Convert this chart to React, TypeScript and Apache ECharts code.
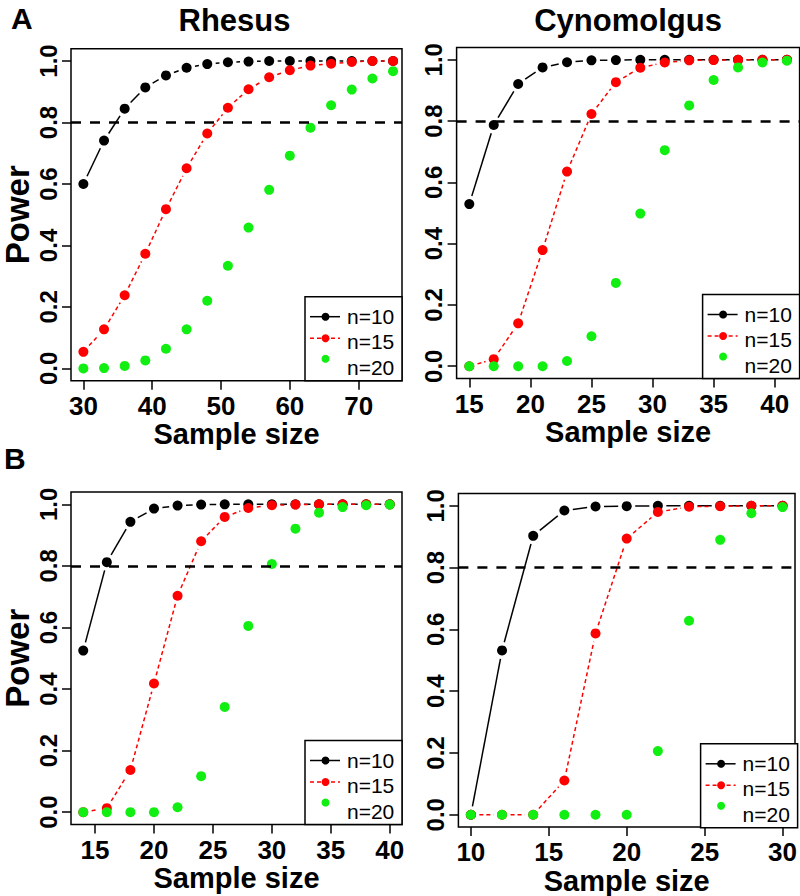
import React, { useEffect, useRef } from "react";
import * as echarts from "echarts";

// ---------- data ----------
const rhesusA_size = [30, 33, 36, 39, 42, 45, 48, 51, 54, 57, 60, 63, 66, 69, 72, 75];
const rhesusA_n10 = [0.6, 0.741, 0.845, 0.914, 0.953, 0.978, 0.99, 0.996, 0.998, 1.0, 1.0, 1.0, 1.0, 1.0, 1.0, 1.0];
const rhesusA_n15 = [0.054, 0.127, 0.238, 0.373, 0.518, 0.651, 0.764, 0.848, 0.908, 0.947, 0.97, 0.985, 0.991, 0.997, 1.0, 1.0];
const rhesusA_n20 = [0.0, 0.001, 0.008, 0.026, 0.064, 0.127, 0.22, 0.334, 0.458, 0.581, 0.692, 0.783, 0.856, 0.907, 0.943, 0.967];

const cynoA_size = [15, 17, 19, 21, 23, 25, 27, 29, 31, 33, 35, 37, 39, 41];
const cynoA_n10 = [0.529, 0.787, 0.921, 0.975, 0.992, 0.998, 0.999, 1.0, 1.0, 1.0, 1.0, 1.0, 1.0, 1.0];
const cynoA_n15 = [0.0, 0.023, 0.14, 0.379, 0.635, 0.823, 0.927, 0.974, 0.991, 0.998, 0.999, 1.0, 1.0, 1.0];
const cynoA_n20 = [0.0, 0.0, 0.0, 0.0, 0.017, 0.098, 0.272, 0.498, 0.705, 0.851, 0.934, 0.975, 0.991, 0.997];

const rhesusB_size = [14, 16, 18, 20, 22, 24, 26, 28, 30, 32, 34, 36, 38, 40];
const rhesusB_n10 = [0.525, 0.812, 0.943, 0.986, 0.996, 0.999, 1.0, 1.0, 1.0, 1.0, 1.0, 1.0, 1.0, 1.0];
const rhesusB_n15 = [0.0, 0.013, 0.137, 0.418, 0.703, 0.88, 0.959, 0.988, 0.997, 0.999, 1.0, 1.0, 1.0, 1.0];
const rhesusB_n20 = [0.0, 0.0, 0.0, 0.0, 0.016, 0.117, 0.342, 0.605, 0.806, 0.921, 0.973, 0.991, 0.997, 0.999];

const cynoB_size = [10, 12, 14, 16, 18, 20, 22, 24, 26, 28, 30];
const cynoB_n10 = [0.0, 0.532, 0.903, 0.985, 0.998, 0.999, 1.0, 1.0, 1.0, 1.0, 1.0];
const cynoB_n15 = [0.0, 0.0, 0.0, 0.111, 0.587, 0.894, 0.98, 0.997, 0.999, 1.0, 1.0];
const cynoB_n20 = [0.0, 0.0, 0.0, 0.0, 0.0, 0.0, 0.206, 0.628, 0.89, 0.976, 0.996];

const rhesusA_xticks = [30, 40, 50, 60, 70];
const cynoA_xticks = [15, 20, 25, 30, 35, 40];
const rhesusB_xticks = [15, 20, 25, 30, 35, 40];
const cynoB_xticks = [10, 15, 20, 25, 30];
const powerTicks = [0, 0.2, 0.4, 0.6, 0.8, 1.0];
const threshold = 0.8;

const seriesNames = ["n=10", "n=15", "n=20"];
const panelTitles = ["Rhesus", "Cynomolgus"];
const panelLetters = ["A", "B"];

// ---------- styling / layout ----------
const FONT = "'Liberation Sans', Arial, Helvetica, sans-serif";
const BLACK = "#000000";
const RED = "#ff0000";
const GREEN = "#11ee11";
const DOT = 10;
const GAP = 8.5; // R type="b" gap around points, in px

type Panel = {
  size: number[];
  n10: number[];
  n15: number[];
  n20: number[];
  xticks: number[];
  grid: { left: number; top: number; width: number; height: number };
  xmin: number;
  xmax: number;
  showPower: boolean;
};

const panels: Panel[] = [
  {
    size: rhesusA_size, n10: rhesusA_n10, n15: rhesusA_n15, n20: rhesusA_n20,
    xticks: rhesusA_xticks,
    grid: { left: 67, top: 48.7, width: 335, height: 332 },
    xmin: 28.2, xmax: 76.3, showPower: true,
  },
  {
    size: cynoA_size, n10: cynoA_n10, n15: cynoA_n15, n20: cynoA_n20,
    xticks: cynoA_xticks,
    grid: { left: 456.6, top: 47.5, width: 343, height: 331 },
    xmin: 13.96, xmax: 42.04, showPower: false,
  },
  {
    size: rhesusB_size, n10: rhesusB_n10, n15: rhesusB_n15, n20: rhesusB_n20,
    xticks: rhesusB_xticks,
    grid: { left: 64.5, top: 492, width: 337.5, height: 332.5 },
    xmin: 12.96, xmax: 41.04, showPower: true,
  },
  {
    size: cynoB_size, n10: cynoB_n10, n15: cynoB_n15, n20: cynoB_n20,
    xticks: cynoB_xticks,
    grid: { left: 458.4, top: 493.5, width: 339.2, height: 334.3 },
    xmin: 9.2, xmax: 30.8, showPower: false,
  },
];

function legendGraphic(right: number, bottom: number) {
  const w = 97;
  const h = 84;
  const left = right - w;
  const top = bottom - h;
  const r = 4;
  const txt = (t: string, y: number) => ({
    type: "text",
    z: 101,
    x: left + 42,
    y,
    style: { text: t, fill: BLACK, font: `21px ${FONT}`, verticalAlign: "middle", textVerticalAlign: "middle" },
  });
  return [
    {
      type: "rect", z: 100,
      shape: { x: left, y: top, width: w, height: h },
      style: { fill: "#ffffff", stroke: BLACK, lineWidth: 1.5 },
    },
    {
      type: "line", z: 101,
      shape: { x1: left + 5, y1: top + 20, x2: left + 35, y2: top + 20 },
      style: { stroke: BLACK, lineWidth: 1.5 },
    },
    { type: "circle", z: 102, shape: { cx: left + 20.5, cy: top + 20, r }, style: { fill: BLACK } },
    {
      type: "line", z: 101,
      shape: { x1: left + 5, y1: top + 41.5, x2: left + 35, y2: top + 41.5 },
      style: { stroke: RED, lineWidth: 1.5, lineDash: [4, 3] },
    },
    { type: "circle", z: 102, shape: { cx: left + 20.5, cy: top + 41.5, r }, style: { fill: RED } },
    { type: "circle", z: 102, shape: { cx: left + 20.5, cy: top + 62, r }, style: { fill: GREEN } },
    txt(seriesNames[0], top + 20),
    txt(seriesNames[1], top + 45),
    txt(seriesNames[2], top + 71),
  ];
}

// gapped connecting segments (like R's type = "b"), positioned through the axes via api.coord
function gappedLineSeries(i: number, xs: number[], ys: number[], color: string, dash: number[] | null) {
  const segs = xs.slice(0, -1).map((x, k) => [x, ys[k], xs[k + 1], ys[k + 1]]);
  return {
    type: "custom",
    xAxisIndex: i,
    yAxisIndex: i,
    silent: true,
    clip: true,
    encode: { x: [0, 2], y: [1, 3] },
    data: segs,
    renderItem: (params: any, api: any) => {
      const p0 = api.coord([api.value(0), api.value(1)]);
      const p1 = api.coord([api.value(2), api.value(3)]);
      const dx = p1[0] - p0[0];
      const dy = p1[1] - p0[1];
      const d = Math.sqrt(dx * dx + dy * dy);
      if (d <= 2 * GAP + 1) return null;
      const ux = dx / d;
      const uy = dy / d;
      return {
        type: "line",
        shape: {
          x1: p0[0] + ux * GAP, y1: p0[1] + uy * GAP,
          x2: p1[0] - ux * GAP, y2: p1[1] - uy * GAP,
        },
        style: { stroke: color, lineWidth: 1.5, lineDash: dash || undefined, fill: null },
      };
    },
  };
}

function buildOption() {
  const grid: any[] = [];
  const xAxis: any[] = [];
  const yAxis: any[] = [];
  const series: any[] = [];
  let graphic: any[] = [];

  panels.forEach((p, i) => {
    grid.push({
      left: p.grid.left, top: p.grid.top, width: p.grid.width, height: p.grid.height,
      show: true, borderColor: BLACK, borderWidth: 1.5, backgroundColor: "transparent",
    });
    xAxis.push({
      type: "value", gridIndex: i, min: p.xmin, max: p.xmax,
      axisLine: { show: false, onZero: false },
      axisTick: { show: true, customValues: p.xticks, length: 9, lineStyle: { color: BLACK, width: 1.5 } },
      axisLabel: {
        customValues: p.xticks, margin: 12, color: BLACK, fontSize: 26, fontWeight: "bold", fontFamily: FONT,
      },
      splitLine: { show: false },
      name: "Sample size", nameLocation: "middle", nameGap: 38,
      nameTextStyle: { fontSize: 29, fontWeight: "bold", color: BLACK, fontFamily: FONT },
    });
    yAxis.push({
      type: "value", gridIndex: i, min: -0.04, max: 1.04,
      axisLine: { show: false, onZero: false },
      axisTick: { show: true, customValues: powerTicks, length: 9, lineStyle: { color: BLACK, width: 1.5 } },
      axisLabel: {
        customValues: powerTicks, rotate: 90, margin: 11, color: BLACK, fontSize: 24, fontWeight: "bold",
        fontFamily: FONT, formatter: (v: number) => v.toFixed(1),
      },
      splitLine: { show: false },
      name: p.showPower ? "Power" : "", nameLocation: "middle", nameGap: 37,
      nameTextStyle: { fontSize: 33, fontWeight: "bold", color: BLACK, fontFamily: FONT },
    });

    const pts = (ys: number[]) => p.size.map((x, k) => [x, ys[k]]);

    series.push(gappedLineSeries(i, p.size, p.n10, BLACK, null));
    series.push({
      type: "scatter", name: seriesNames[0], xAxisIndex: i, yAxisIndex: i,
      data: pts(p.n10), symbol: "circle", symbolSize: DOT,
      itemStyle: { color: BLACK, opacity: 1 },
      markLine: {
        silent: true, symbol: "none", label: { show: false },
        lineStyle: { color: BLACK, width: 2.5, type: [10, 9] },
        data: [{ yAxis: threshold }],
      },
    });
    series.push(gappedLineSeries(i, p.size, p.n15, RED, [4, 3]));
    series.push({
      type: "scatter", name: seriesNames[1], xAxisIndex: i, yAxisIndex: i,
      data: pts(p.n15), symbol: "circle", symbolSize: DOT,
      itemStyle: { color: RED, opacity: 1 },
    });
    series.push({
      type: "scatter", name: seriesNames[2], xAxisIndex: i, yAxisIndex: i,
      data: pts(p.n20), symbol: "circle", symbolSize: DOT,
      itemStyle: { color: GREEN, opacity: 1 },
    });

    graphic = graphic.concat(legendGraphic(p.grid.left + p.grid.width, p.grid.top + p.grid.height));
  });

  const titleStyle = { fontSize: 31, lineHeight: 34, fontWeight: "bold", color: BLACK, fontFamily: FONT };
  const title = [
    { text: panelTitles[0], left: 234.5, top: 3, padding: 0, textAlign: "center", textStyle: titleStyle },
    { text: panelTitles[1], left: 628, top: 3, padding: 0, textAlign: "center", textStyle: titleStyle },
    { text: panelLetters[0], left: 11, top: 2, padding: 0,
      textStyle: { fontSize: 30, lineHeight: 32, fontWeight: "bold", color: BLACK, fontFamily: FONT } },
    { text: panelLetters[1], left: 4, top: 442, padding: 0,
      textStyle: { fontSize: 30, lineHeight: 32, fontWeight: "bold", color: BLACK, fontFamily: FONT } },
  ];

  return {
    animation: false,
    backgroundColor: "#ffffff",
    title,
    grid,
    xAxis,
    yAxis,
    series,
    graphic,
  };
}

export default function App() {
  const ref = useRef<HTMLDivElement>(null);
  useEffect(() => {
    if (!ref.current) return;
    const chart = echarts.init(ref.current, null, { renderer: "svg" });
    chart.setOption(buildOption() as any);
    return () => chart.dispose();
  }, []);
  return (
    <div
      ref={ref}
      style={{ position: "absolute", left: 0, top: 0, width: 800, height: 896, background: "#fff" }}
    />
  );
}
